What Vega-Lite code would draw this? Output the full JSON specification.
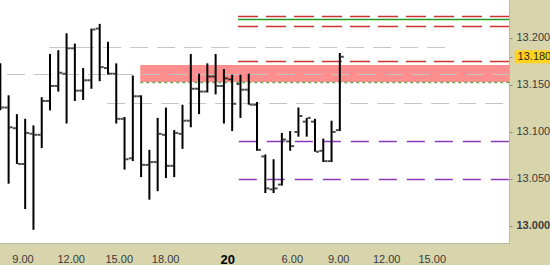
{
  "$schema": "https://vega.github.io/schema/vega-lite/v6.json",
  "width": 509,
  "height": 243,
  "autosize": {"type": "none"},
  "padding": {"left": 0, "top": 0, "right": 41, "bottom": 22},
  "background": "#d8d5ad",
  "view": {"fill": "#ffffff", "stroke": null},
  "config": {
    "font": "Liberation Sans",
    "axis": {"labelFont": "Liberation Sans", "labelFontSize": 11, "labelColor": "#3a3a3a", "tickColor": "#8a8a7a", "domain": true, "domainColor": "#b8b8a4", "grid": false, "title": null}
  },
  "datasets": {
    "bars": [
      {"i": 0, "o": 13.134, "h": 13.173, "l": 13.123, "c": 13.126},
      {"i": 1, "o": 13.126, "h": 13.139, "l": 13.045, "c": 13.105},
      {"i": 2, "o": 13.104, "h": 13.119, "l": 13.066, "c": 13.066},
      {"i": 3, "o": 13.066, "h": 13.114, "l": 13.018, "c": 13.099},
      {"i": 4, "o": 13.098, "h": 13.107, "l": 12.996, "c": 13.097},
      {"i": 5, "o": 13.097, "h": 13.137, "l": 13.083, "c": 13.133},
      {"i": 6, "o": 13.133, "h": 13.183, "l": 13.123, "c": 13.149},
      {"i": 7, "o": 13.149, "h": 13.187, "l": 13.143, "c": 13.163},
      {"i": 8, "o": 13.162, "h": 13.205, "l": 13.109, "c": 13.189},
      {"i": 9, "o": 13.189, "h": 13.194, "l": 13.133, "c": 13.144},
      {"i": 10, "o": 13.144, "h": 13.168, "l": 13.134, "c": 13.155},
      {"i": 11, "o": 13.155, "h": 13.210, "l": 13.146, "c": 13.209},
      {"i": 12, "o": 13.210, "h": 13.215, "l": 13.154, "c": 13.169},
      {"i": 13, "o": 13.168, "h": 13.196, "l": 13.161, "c": 13.162},
      {"i": 14, "o": 13.162, "h": 13.173, "l": 13.109, "c": 13.114},
      {"i": 15, "o": 13.114, "h": 13.116, "l": 13.060, "c": 13.071},
      {"i": 16, "o": 13.072, "h": 13.160, "l": 13.069, "c": 13.138},
      {"i": 17, "o": 13.138, "h": 13.139, "l": 13.052, "c": 13.065},
      {"i": 18, "o": 13.065, "h": 13.081, "l": 13.028, "c": 13.068},
      {"i": 19, "o": 13.068, "h": 13.115, "l": 13.037, "c": 13.098},
      {"i": 20, "o": 13.097, "h": 13.126, "l": 13.051, "c": 13.064},
      {"i": 21, "o": 13.064, "h": 13.102, "l": 13.052, "c": 13.099},
      {"i": 22, "o": 13.098, "h": 13.129, "l": 13.082, "c": 13.112},
      {"i": 23, "o": 13.112, "h": 13.183, "l": 13.105, "c": 13.146},
      {"i": 24, "o": 13.146, "h": 13.162, "l": 13.119, "c": 13.143},
      {"i": 25, "o": 13.143, "h": 13.173, "l": 13.142, "c": 13.159},
      {"i": 26, "o": 13.159, "h": 13.183, "l": 13.140, "c": 13.149},
      {"i": 27, "o": 13.149, "h": 13.167, "l": 13.109, "c": 13.157},
      {"i": 28, "o": 13.156, "h": 13.161, "l": 13.101, "c": 13.130},
      {"i": 29, "o": 13.151, "h": 13.161, "l": 13.115, "c": 13.145},
      {"i": 30, "o": 13.145, "h": 13.162, "l": 13.129, "c": 13.129},
      {"i": 31, "o": 13.129, "h": 13.132, "l": 13.080, "c": 13.081},
      {"i": 32, "o": 13.074, "h": 13.076, "l": 13.035, "c": 13.040},
      {"i": 33, "o": 13.039, "h": 13.071, "l": 13.035, "c": 13.040},
      {"i": 34, "o": 13.044, "h": 13.099, "l": 13.043, "c": 13.092},
      {"i": 35, "o": 13.090, "h": 13.101, "l": 13.080, "c": 13.085},
      {"i": 36, "o": 13.100, "h": 13.126, "l": 13.095, "c": 13.117},
      {"i": 37, "o": 13.111, "h": 13.115, "l": 13.095, "c": 13.115},
      {"i": 38, "o": 13.111, "h": 13.114, "l": 13.079, "c": 13.079},
      {"i": 39, "o": 13.080, "h": 13.093, "l": 13.068, "c": 13.069},
      {"i": 40, "o": 13.069, "h": 13.112, "l": 13.068, "c": 13.100},
      {"i": 41, "o": 13.102, "h": 13.184, "l": 13.101, "c": 13.180}
    ],
    "zone": [
      {"from": 16.9, "to": 61.43, "lo": 13.1532, "hi": 13.1713}
    ],
    "levels": [
      {"p": 13.1899, "from": 5.9, "to": 53.7, "kind": "pivot"},
      {"p": 13.1611, "from": 0.8, "to": 61.43, "kind": "pivot"},
      {"p": 13.1303, "from": 12.9, "to": 61.43, "kind": "pivot"},
      {"p": 13.2228, "from": 28.7, "to": 61.43, "kind": "resistance"},
      {"p": 13.2122, "from": 28.7, "to": 61.43, "kind": "resistance"},
      {"p": 13.1750, "from": 28.7, "to": 61.43, "kind": "resistance"},
      {"p": 13.2197, "from": 28.7, "to": 61.43, "kind": "target"},
      {"p": 13.1526, "from": 16.9, "to": 61.43, "kind": "zone"},
      {"p": 13.0899, "from": 28.8, "to": 61.43, "kind": "support"},
      {"p": 13.0495, "from": 28.8, "to": 61.43, "kind": "support"}
    ],
    "last": [
      {"price": 13.18}
    ]
  },
  "layer": [
    {
      "data": {"name": "zone"},
      "mark": {"type": "rect", "color": "#ff8e8e"},
      "encoding": {
        "x": {"field": "from", "type": "quantitative", "title": null,
          "scale": {"domain": [-0.04, 61.43], "nice": false, "zero": false},
          "axis": {
            "orient": "bottom",
            "title": null,
            "values": [2.68, 8.5, 14.3, 19.9, 27.4, 35.2, 40.8, 46.6, 52.1],
            "labelExpr": "datum.value < 5 ? '9.00' : datum.value < 11 ? '12.00' : datum.value < 17 ? '15.00' : datum.value < 22 ? '18.00' : datum.value < 30 ? '20' : datum.value < 38 ? '6.00' : datum.value < 43 ? '9.00' : datum.value < 49 ? '12.00' : '15.00'",
            "ticks": false,
            "labelPadding": 10,
            "labelFontWeight": {"condition": {"test": "datum.value > 27 && datum.value < 28", "value": "bold"}, "value": "normal"},
            "labelFontSize": {"condition": {"test": "datum.value > 27 && datum.value < 28", "value": 13}, "value": 11},
            "labelColor": {"condition": {"test": "datum.value > 27 && datum.value < 28", "value": "#000000"}, "value": "#3a3a3a"}
          }
        },
        "x2": {"field": "to"},
        "y": {"field": "lo", "type": "quantitative", "title": null,
          "scale": {"domain": [12.9819, 13.2404], "nice": false, "zero": false},
          "axis": {
            "orient": "right",
            "title": null,
            "values": [13.0, 13.05, 13.1, 13.15, 13.18, 13.2],
            "labelExpr": "abs(datum.value - 13.18) < 0.001 ? '' : format(datum.value, '.3f')",
            "tickSize": 3,
            "labelPadding": 4,
            "labelFontWeight": {"condition": {"test": "datum.value < 13.01", "value": "bold"}, "value": "normal"}
          }
        },
        "y2": {"field": "hi"}
      }
    },
    {
      "data": {"name": "levels"},
      "transform": [{"filter": "datum.kind == 'pivot'"}],
      "mark": {"type": "rule", "strokeWidth": 1, "strokeDash": [18, 9], "color": "#c6c6c6"},
      "encoding": {
        "x": {"field": "from", "type": "quantitative", "title": null},
        "x2": {"field": "to"},
        "y": {"field": "p", "type": "quantitative", "title": null}
      }
    },
    {
      "data": {"name": "levels"},
      "transform": [{"filter": "datum.kind != 'pivot'"}],
      "mark": {"type": "rule", "strokeWidth": 1.5},
      "encoding": {
        "x": {"field": "from", "type": "quantitative", "title": null},
        "x2": {"field": "to"},
        "y": {"field": "p", "type": "quantitative", "title": null},
        "stroke": {"field": "kind", "type": "nominal", "legend": null, "scale": {"domain": ["resistance", "target", "zone", "support"], "range": ["#cc3333", "#229922", "#66a64e", "#8a38b8"]}},
        "strokeDash": {"field": "kind", "type": "nominal", "legend": null, "scale": {"domain": ["resistance", "target", "zone", "support"], "range": [[20, 8], [1, 0], [3, 3], [18, 10]]}}
      }
    },
    {
      "data": {"name": "bars"},
      "mark": {"type": "rule", "strokeWidth": 2, "color": "#000000"},
      "encoding": {
        "x": {"field": "i", "type": "quantitative", "title": null},
        "y": {"field": "l", "type": "quantitative", "title": null},
        "y2": {"field": "h"}
      }
    },
    {
      "data": {"name": "bars"},
      "mark": {"type": "tick", "orient": "horizontal", "size": 3, "thickness": 2, "xOffset": -2.5, "color": "#000000"},
      "encoding": {
        "x": {"field": "i", "type": "quantitative", "title": null},
        "y": {"field": "o", "type": "quantitative", "title": null}
      }
    },
    {
      "data": {"name": "bars"},
      "mark": {"type": "tick", "orient": "horizontal", "size": 3, "thickness": 2, "xOffset": 2.5, "color": "#000000"},
      "encoding": {
        "x": {"field": "i", "type": "quantitative", "title": null},
        "y": {"field": "c", "type": "quantitative", "title": null}
      }
    },
    {
      "data": {"name": "last"},
      "mark": {"type": "rect", "width": 36, "height": 13, "color": "#ffd21e", "clip": false},
      "encoding": {
        "x": {"datum": 64.3, "type": "quantitative", "title": null},
        "y": {"field": "price", "type": "quantitative", "title": null}
      }
    },
    {
      "data": {"name": "last"},
      "mark": {"type": "text", "font": "Liberation Sans", "fontSize": 11, "color": "#2a2a2a", "align": "center", "baseline": "middle", "clip": false},
      "encoding": {
        "x": {"datum": 64.5, "type": "quantitative", "title": null},
        "y": {"field": "price", "type": "quantitative", "title": null},
        "text": {"field": "price", "type": "quantitative", "format": ".3f"}
      }
    }
  ]
}
